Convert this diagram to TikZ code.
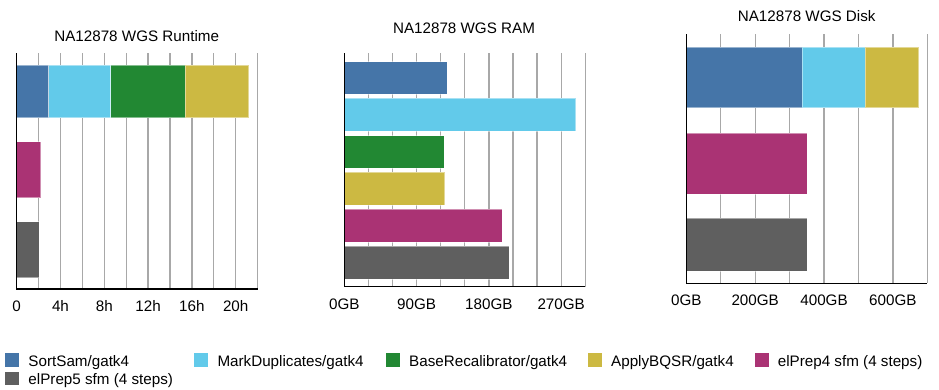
\documentclass[tikz,border=0pt]{standalone}
\usepackage{fontspec}
\setmainfont{Liberation Sans}
\definecolor{cblue}{HTML}{4575A8}
\definecolor{ccyan}{HTML}{62CAEA}
\definecolor{cgreen}{HTML}{228833}
\definecolor{cyellow}{HTML}{CCB942}
\definecolor{cmag}{HTML}{AA3374}
\definecolor{cgrey}{HTML}{5F5F5F}
\definecolor{gridgray}{HTML}{A8A8A8}
\tikzset{
  gridln/.style={draw=gridgray, line width=1.3bp},
  axisln/.style={draw=black, line width=1.3bp},
  barbox/.style={fill=#1, draw=white, draw opacity=0.45, line width=0.6bp},
  lbl/.style={anchor=base, inner sep=0pt, font=\fontsize{15.2bp}{18bp}\selectfont},
  legtext/.style={anchor=base west, inner sep=0pt, font=\fontsize{15.2bp}{18bp}\selectfont},
  legsq/.style={fill=#1, draw=none}
}
\begin{document}
\begin{tikzpicture}[x=1bp,y=-1bp]
\useasboundingbox (0,0) rectangle (939,389);
\fill[white] (0,0) rectangle (939,389);

% ---------------- Chart 1: Runtime ----------------
\foreach \k in {1,...,11} \draw[gridln] ({16.7+\k*21.9},53) -- ({16.7+\k*21.9},289);
\draw[barbox=cblue]   (16.7,65) rectangle (48.7,117.7);
\draw[barbox=ccyan]   (48.7,65) rectangle (110.7,117.7);
\draw[barbox=cgreen]  (110.7,65) rectangle (185,117.7);
\draw[barbox=cyellow] (185,65) rectangle (248.7,117.7);
\draw[barbox=cmag]    (16.7,141.7) rectangle (40.7,197.7);
\draw[barbox=cgrey]   (16.7,221.7) rectangle (39,277.7);
\draw[axisln] (16.7,53) -- (16.7,289) -- (257.7,289);
\node[lbl] (rtitle) at (136.7,41.7) {NA12878 WGS Runtime};
\node[lbl] (rt0) at (16.7,311.7) {0};
\node[lbl] (rt1) at (60.5,311.7) {4h};
\node[lbl] (rt2) at (104.3,311.7) {8h};
\node[lbl] (rt3) at (148.1,311.7) {12h};
\node[lbl] (rt4) at (191.9,311.7) {16h};
\node[lbl] (rt5) at (235.7,311.7) {20h};

% ---------------- Chart 2: RAM ----------------
\foreach \k in {1,...,10} \draw[gridln] ({344.3+\k*24.1},53.3) -- ({344.3+\k*24.1},286.7);
\draw[barbox=cblue]   (344.3,61.7) rectangle (447,94);
\draw[barbox=ccyan]   (344.3,98.3) rectangle (575.7,131.3);
\draw[barbox=cgreen]  (344.3,135.7) rectangle (444.3,168.3);
\draw[barbox=cyellow] (344.3,172.3) rectangle (444.7,205.3);
\draw[barbox=cmag]    (344.3,209.3) rectangle (502.3,242.3);
\draw[barbox=cgrey]   (344.3,246.3) rectangle (509,279);
\draw[axisln] (344.3,53.3) -- (344.3,286.7) -- (585.3,286.7);
\node[lbl] (mtitle) at (464,33.3) {NA12878 WGS RAM};
\node[lbl] (mt0) at (344.3,309.3) {0GB};
\node[lbl] (mt1) at (416.6,309.3) {90GB};
\node[lbl] (mt2) at (488.9,309.3) {180GB};
\node[lbl] (mt3) at (561.2,309.3) {270GB};

% ---------------- Chart 3: Disk ----------------
\foreach \k in {1,...,7} \draw[gridln] ({686.3+\k*34.43},34) -- ({686.3+\k*34.43},283.3);
\draw[barbox=cblue]   (686.3,47.3) rectangle (802,107.7);
\draw[barbox=ccyan]   (802,47.3) rectangle (865,107.7);
\draw[barbox=cyellow] (865,47.3) rectangle (918.7,107.7);
\draw[barbox=cmag]    (686.3,133.3) rectangle (807.3,194);
\draw[barbox=cgrey]   (686.3,218.3) rectangle (807.3,271);
\draw[axisln] (686.3,34) -- (686.3,283.3) -- (927.3,283.3);
\node[lbl] (dtitle) at (806.7,21.3) {NA12878 WGS Disk};
\node[lbl] (dt0) at (686.3,305) {0GB};
\node[lbl] (dt1) at (755.2,305) {200GB};
\node[lbl] (dt2) at (824.0,305) {400GB};
\node[lbl] (dt3) at (892.9,305) {600GB};

% ---------------- Legend ----------------
\fill[legsq=cblue]   (5,353.3) rectangle (19,366.7);
\node[legtext] (lg1) at (28.3,366) {SortSam/gatk4};
\fill[legsq=ccyan]   (194,353.3) rectangle (208,366.7);
\node[legtext] (lg2) at (217.3,366) {MarkDuplicates/gatk4};
\fill[legsq=cgreen]  (385.5,353.3) rectangle (399.5,366.7);
\node[legtext] (lg3) at (409,366) {BaseRecalibrator/gatk4};
\fill[legsq=cyellow] (588,353.3) rectangle (602,366.7);
\node[legtext] (lg4) at (611,366) {ApplyBQSR/gatk4};
\fill[legsq=cmag]    (755,353.3) rectangle (769,366.7);
\node[legtext] (lg5) at (777.7,366) {elPrep4 sfm (4 steps)};
\fill[legsq=cgrey]   (5,371.7) rectangle (19,385);
\node[legtext] (lg6) at (28.3,384) {elPrep5 sfm (4 steps)};
\end{tikzpicture}
\end{document}
